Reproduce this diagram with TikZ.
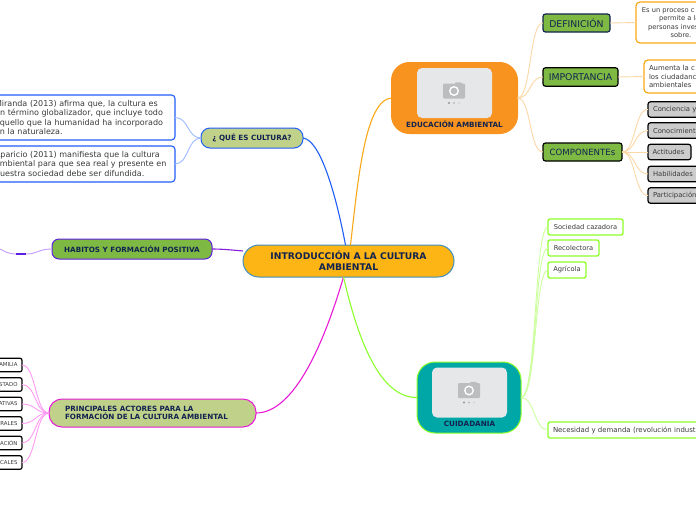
\documentclass[tikz,border=0pt]{standalone}
\usepackage{fontspec}
\setmainfont{DejaVu Sans}
\definecolor{navy}{HTML}{12234F}
\definecolor{txt}{HTML}{3A3A3A}
\definecolor{grn}{HTML}{7DB943}
\definecolor{sage}{HTML}{C0D18A}
\definecolor{orng}{HTML}{F7931E}
\definecolor{orl}{HTML}{FBD8A6}
\definecolor{blu}{HTML}{1F5FF5}
\definecolor{bll}{HTML}{9DBBFF}
\definecolor{pnk}{HTML}{FF9AF5}
\definecolor{mag}{HTML}{E81AD8}
\definecolor{lim}{HTML}{8CFF2A}
\definecolor{lil}{HTML}{CDFF9E}
\definecolor{pur}{HTML}{5F1FE0}
\definecolor{pul}{HTML}{C49CFF}
\definecolor{imgbg}{HTML}{E6E7E9}
\definecolor{cam}{HTML}{BCBDBF}
\definecolor{cen}{HTML}{FDB515}
\definecolor{cenb}{HTML}{3B8FC0}
\definecolor{tealf}{HTML}{00A7A7}
\newcommand{\fs}[1]{\fontsize{#1}{#1}\selectfont}
\tikzset{
  base/.style={inner sep=0pt,outer sep=0pt,line width=1pt,align=center},
  mainbox/.style={base,draw=#1,rounded corners=8pt,font=\fs{7.2}\bfseries,text=navy},
  subbox/.style={base,draw=navy,fill=grn,rounded corners=2.5pt,line width=1.2pt,font=\fs{9.3},text=navy},
  leafgrey/.style={base,draw=black,fill=black!20,rounded corners=2.5pt,line width=1.2pt,font=\fs{6.8},text=txt,anchor=west,align=left},
  leaflim/.style={base,draw=lim,fill=white,rounded corners=2pt,line width=1.3pt,font=\fs{6.7},text=txt,anchor=west},
  leafblk/.style={base,draw=black,fill=white,rounded corners=2pt,line width=1.2pt,font=\fs{5.4},text=txt,anchor=east,align=right,minimum width=40,minimum height=13.5,text width=31},
  textblue/.style={base,draw=blu,fill=white,rounded corners=3.5pt,line width=1.1pt,font=\fontsize{8}{9.4}\selectfont,text=txt,align=left,anchor=east},
  textor/.style={base,draw=orng!80!yellow,fill=white,rounded corners=4pt,line width=1.2pt,text=txt,anchor=west},
  pictbox/.style={base,rounded corners=18pt,line width=1pt},
  imgbox/.style={base,fill=imgbg,rounded corners=5pt,minimum width=75,minimum height=50},
  lnk/.style={line width=0.9pt},
  trunk/.style={line width=1.1pt},
  cameraicon/.pic={
    \fill[cam,rounded corners=1pt] (-11,-7.5) rectangle (11,7.5);
    \fill[cam,rounded corners=1pt] (1,-8.7) rectangle (8,-5);
    \fill[white] (0,0) circle (5);
    \fill[cam] (0,0) circle (3.4);
    \fill[cam!80!black] (-5,12) circle (1.2);
    \fill[cam] (0,12) circle (1.2);
    \fill[imgbg!60!cam] (5,12) circle (1.2);
  }
}
\begin{document}
\begin{tikzpicture}[x=1pt,y=-1pt]
\useasboundingbox (0,0) rectangle (696,520);
\clip (0,0) rectangle (696,520);
\fill[white] (0,0) rectangle (696,520);
% main nodes
\node[mainbox=cenb,fill=cen,rounded corners=16pt,minimum width=211,minimum height=32,font=\fontsize{9.2}{10.8}\selectfont\bfseries] (central) at (348.5,261) {INTRODUCCIÓN A LA CULTURA\\AMBIENTAL};
\node[pictbox,fill=orng,draw=orng,minimum width=126,minimum height=71] (edu) at (454.5,98) {};
\node[imgbox] (eduimg) at (454.5,93) {};
\pic at (454,91) {cameraicon};
\node[base,font=\fs{7.2}\bfseries,text=navy] (edulab) at (454.5,124.5) {EDUCACIÓN AMBIENTAL};
\node[pictbox,fill=tealf,draw=lim,minimum width=104,minimum height=71] (cui) at (469,397.5) {};
\node[imgbox] (cuiimg) at (469.5,392.5) {};
\pic at (469,390.5) {cameraicon};
\node[base,font=\fs{7.2}\bfseries,text=navy] (cuilab) at (469.5,423.5) {CUIDADANIA};
\node[mainbox=blu,fill=sage,minimum width=102,minimum height=20,rounded corners=9pt] (que) at (252,138) {¿ QUÉ ES CULTURA?};
\node[mainbox=pur,fill=grn,minimum width=160,minimum height=20,rounded corners=7pt] (hab) at (132,249) {HABITOS Y FORMACIÓN POSITIVA};
\node[mainbox=mag,fill=sage,minimum width=207,minimum height=28,rounded corners=13pt,align=left,text width=175,font=\fontsize{7.2}{8}\selectfont\bfseries] (pri) at (152.5,413) {PRINCIPALES ACTORES PARA LA\\FORMACIÓN DE LA CULTURA AMBIENTAL};
% blue texts
\node[textblue,minimum width=187,minimum height=45,text width=173] (mir) at (175,117.5) {Miranda (2013) afirma que, la cultura es\\un término globalizador, que incluye todo\\aquello que la humanidad ha incorporado\\en la naturaleza.};
\node[textblue,minimum width=187,minimum height=36,text width=173] (apa) at (175,164) {Aparicio (2011) manifiesta que la cultura\\ambiental para que sea real y presente en\\nuestra sociedad debe ser difundida.};
% sub nodes
\node[subbox,minimum width=67,minimum height=18] (def) at (576.5,23) {DEFINICIÓN};
\node[subbox,draw=black,minimum width=75,minimum height=18.5] (imp) at (580.5,77) {IMPORTANCIA};
\node[subbox,draw=black,minimum width=79,minimum height=18,font=\fs{8.6}] (com) at (582.5,152) {COMPONENTEs};
\node[textor,minimum width=90,minimum height=41,font=\fontsize{6.7}{8.4}\selectfont] (deft) at (636,22.5) {Es un proceso c\hphantom{ontinuo}\\permite a la\hphantom{s}\\personas inves\hphantom{tigar}\\sobre.};
\node[textor,minimum width=82,minimum height=33,align=left,text width=72,font=\fontsize{6.9}{8.7}\selectfont] (impt) at (644,76.5) {Aumenta la c\\los ciudadanc\\ambientales};
\node[leafgrey,minimum width=70,minimum height=15.5,text width=60] (g1) at (648,109.5) {Conciencia y};
\node[leafgrey,minimum width=70,minimum height=15.5,text width=60] (g2) at (648,130.5) {Conocimient};
\node[leafgrey,minimum width=43,minimum height=15.5,text width=34] (g3) at (648,152) {Actitudes};
\node[leafgrey,minimum width=70,minimum height=15.5,text width=60] (g4) at (648,174) {Habilidades};
\node[leafgrey,minimum width=70,minimum height=15.5,text width=60] (g5) at (648,195.5) {Participación};
% lime leaves
\node[leaflim,minimum width=75,minimum height=16] (l1) at (548,227) {Sociedad cazadora};
\node[leaflim,minimum width=51,minimum height=16] (l2) at (548,248) {Recolectora};
\node[leaflim,minimum width=38,minimum height=16] (l3) at (548,270) {Agrícola};
\node[leaflim,minimum width=200,minimum height=16,align=left,text width=190,font=\fs{6.95}] (l4) at (548,430) {Necesidad y demanda (revolución indust};
% black leaves
\node[leafblk] (b1) at (22,365) {FAMILIA};
\node[leafblk] (b2) at (22,384.5) {ESTADO};
\node[leafblk] (b3) at (22,404) {ATIVAS};
\node[leafblk] (b4) at (22,423.5) {RALES};
\node[leafblk] (b5) at (22,443) {ACIÓN};
\node[leafblk] (b6) at (22,462.5) {CALES};
% free ends of the left stub
\coordinate (stubA) at (26,254);
\coordinate (stubB) at (16,254);
\coordinate (stubC) at (-2,248);
% connectors
\draw[trunk,blu] ([xshift=-3pt]central.north) .. controls (338,205) and (322,140) .. (que.east);
\draw[trunk,orng!80!yellow] ([xshift=2pt]central.north) .. controls (358,180) and (365,100) .. (edu.west);
\draw[trunk,pur!70!mag] ([yshift=10pt]central.west) .. controls (232,250) and (222,249) .. (hab.east);
\draw[trunk,mag] ([xshift=-5pt]central.south) .. controls (325,340) and (295,413) .. (pri.east);
\draw[trunk,lim] ([xshift=-5pt]central.south) .. controls (358,340) and (380,398) .. (cui.west);
\draw[lnk,bll] (que.west) .. controls +(-14,0) and +(14,0) .. (mir.east);
\draw[lnk,bll] (que.west) .. controls +(-14,0) and +(14,0) .. (apa.east);
\draw[lnk,pul] (hab.west) .. controls +(-14,0) and +(12,0) .. (stubA);
\draw[line width=1.5pt,pur] (stubA) -- (stubB);
\draw[lnk,pul] (stubB) .. controls +(-8,0) and +(6,3) .. (stubC);
\draw[lnk,orl] (edu.east) .. controls +(14,0) and +(-14,0) .. (def.west);
\draw[lnk,orl] (edu.east) .. controls +(14,0) and +(-14,0) .. (imp.west);
\draw[lnk,orl] (edu.east) .. controls +(14,0) and +(-14,0) .. (com.west);
\draw[lnk,orl] (def.east) -- (deft.west);
\draw[lnk,orl] (imp.east) -- (impt.west);
\draw[lnk,orl] (com.east) .. controls +(14,0) and +(-14,0) .. (g1.west);
\draw[lnk,orl] (com.east) .. controls +(14,0) and +(-14,0) .. (g2.west);
\draw[lnk,orl] (com.east) -- (g3.west);
\draw[lnk,orl] (com.east) .. controls +(14,0) and +(-14,0) .. (g4.west);
\draw[lnk,orl] (com.east) .. controls +(14,0) and +(-14,0) .. (g5.west);
\draw[lnk,lil] (cui.east) .. controls +(16,0) and +(-14,0) .. (l1.west);
\draw[lnk,lil] (cui.east) .. controls +(16,0) and +(-14,0) .. (l2.west);
\draw[lnk,lil] (cui.east) .. controls +(16,0) and +(-14,0) .. (l3.west);
\draw[lnk,lil] (cui.east) .. controls +(14,0) and +(-14,0) .. (l4.west);
\draw[lnk,pnk] (pri.west) .. controls +(-14,0) and +(14,0) .. (b1.east);
\draw[lnk,pnk] (pri.west) .. controls +(-14,0) and +(14,0) .. (b2.east);
\draw[lnk,pnk] (pri.west) .. controls +(-14,0) and +(14,0) .. (b3.east);
\draw[lnk,pnk] (pri.west) .. controls +(-14,0) and +(14,0) .. (b4.east);
\draw[lnk,pnk] (pri.west) .. controls +(-14,0) and +(14,0) .. (b5.east);
\draw[lnk,pnk] (pri.west) .. controls +(-14,0) and +(14,0) .. (b6.east);
\end{tikzpicture}
\end{document}
